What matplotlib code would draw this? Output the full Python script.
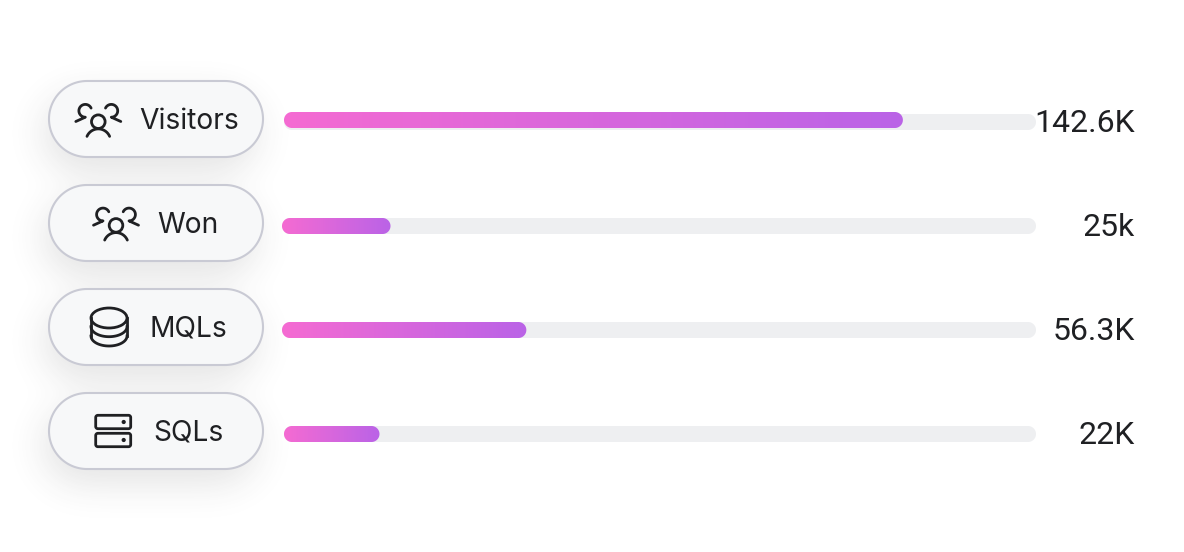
import numpy as np
import matplotlib
matplotlib.use("Agg")
import matplotlib.pyplot as plt
from matplotlib.patches import Polygon, Circle, Ellipse

# values in thousands
labels = ["Visitors", "Won", "MQLs", "SQLs"]
values = [142.6, 25, 56.3, 22]
value_labels = ["142.6K", "25k", "56.3K", "22K"]

# layout, in pixels of the 1184x552 picture
px_per_k = 4.34
row_y = [119, 223, 327, 431]
bar_start = [284, 282, 282, 284]
bar_y = [120, 226, 330, 434]
track_y = [122, 226, 330, 434]
text_x = [139.5, 157.5, 149.5, 153.5]

INK = "#1F2023"
plt.rcParams["font.family"] = ["Inter", "DejaVu Sans"]


def rounded(x0, y0, x1, y1, r, **kw):
    # real circular corners, the round boxstyle comes out too square
    pts = []
    for cx, cy, a in [(x1 - r, y0 + r, -90), (x1 - r, y1 - r, 0), (x0 + r, y1 - r, 90), (x0 + r, y0 + r, 180)]:
        t = np.radians(np.linspace(a, a + 90, 30))
        pts.append(np.column_stack([cx + r * np.cos(t), cy + r * np.sin(t)]))
    return Polygon(np.vstack(pts), closed=True, **kw)


def blur(a, sigma):
    k = np.exp(-0.5 * (np.arange(-70, 71) / sigma) ** 2)
    k = k / k.sum()
    a = np.apply_along_axis(lambda v: np.convolve(v, k, mode="same"), 0, a)
    a = np.apply_along_axis(lambda v: np.convolve(v, k, mode="same"), 1, a)
    return a


def pill_mask(yy, xx, x0, x1, y0, y1):
    r = (y1 - y0) / 2
    cy = (y0 + y1) / 2
    dx = np.maximum(np.maximum(x0 + r - xx, xx - (x1 - r)), 0)
    return (dx ** 2 + (yy - cy) ** 2 <= r ** 2).astype(float)


def arc(cx, cy, r, a0, a1, ry=None):
    t = np.radians(np.linspace(a0, a1, 40))
    return cx + r * np.cos(t), cy + (ry if ry else r) * np.sin(t)


def users_icon(ax, cx, cy):
    lw = 2.0
    ax.add_patch(Circle((cx, cy), 6.8, fill=False, ec=INK, lw=lw, zorder=6))
    x, y = arc(cx, cy + 19.5, 12.3, 203, 337)
    ax.plot(x, y, color=INK, lw=lw, solid_capstyle="round", zorder=6)
    for s in [-1, 1]:
        x, y = arc(0, -10.9, 6.4, -25, -270)
        x = list(x) + [-9.5]
        y = list(y) + [-0.2]
        ax.plot(cx + s * (np.array(x) - 13), cy + np.array(y), color=INK, lw=lw,
                solid_capstyle="round", solid_joinstyle="round", zorder=6)


def db_icon(ax, cx, cy):
    lw = 2.0
    ax.add_patch(Ellipse((cx, cy - 9), 36, 20, fill=False, ec=INK, lw=lw, zorder=6))
    for c in [-0.3, 9]:
        x, y = arc(cx, cy + c, 18, 180, 0, ry=10)
        ax.plot(x, y, color=INK, lw=lw, zorder=6)
    for s in [-1, 1]:
        ax.plot([cx + s * 18] * 2, [cy - 9, cy + 9], color=INK, lw=lw, zorder=6)


def server_icon(ax, cx, cy):
    lw = 2.0
    for dy in [-9, 9]:
        ax.add_patch(rounded(cx - 17.5, cy + dy - 6.7, cx + 17.5, cy + dy + 6.7, 2.2,
                             fill=False, ec=INK, lw=lw, zorder=6))
        ax.add_patch(Circle((cx + 10.5, cy + dy), 2.1, color=INK, lw=0, zorder=6))


fig = plt.figure(figsize=(11.84, 5.52), dpi=100)
ax = fig.add_axes([0, 0, 1, 1])
ax.axis("off")

# soft shadow under the pills
yy, xx = np.mgrid[0:552, 0:1184]
mask = np.zeros((552, 1184))
for y in row_y:
    mask = np.maximum(mask, pill_mask(yy, xx, 43, 257, y + 14 - 38, y + 14 + 38))
rgba = np.zeros((552, 1184, 4))
rgba[..., :3] = 0.25
rgba[..., 3] = blur(mask, 18) * 0.14
ax.imshow(rgba, extent=(0, 1184, 552, 0), aspect="auto", zorder=1, interpolation="bilinear")

colors = np.array([[0xF5, 0x6B, 0xD2], [0xBA, 0x63, 0xE7]]) / 255
for i, v in enumerate(values):
    y = row_y[i]
    ax.add_patch(rounded(49, y - 38, 263, y + 38, 38, fc="#F7F8F9", ec="#C9CAD4", lw=1.5, zorder=3))
    ax.text(text_x[i], y + 10, labels[i], fontsize=20.3, color=INK, va="baseline", ha="left", zorder=6)

    # track
    ax.add_patch(rounded(bar_start[i], track_y[i] - 8, 1036, track_y[i] + 8, 8,
                         fc="#EEEFF1", ec="none", zorder=2))
    # value bar with gradient
    x0 = bar_start[i]
    x1 = x0 + v * px_per_k
    t = np.linspace(0, 1, 256)[None, :, None]
    grad = colors[0] * (1 - t) + colors[1] * t
    im = ax.imshow(grad, extent=(x0, x1, bar_y[i] + 8, bar_y[i] - 8), aspect="auto", zorder=4)
    clip = rounded(x0, bar_y[i] - 8, x1, bar_y[i] + 8, 8, fc="none", ec="none")
    ax.add_patch(clip)
    im.set_clip_path(clip)

    ax.text(1135, y + 12.7, value_labels[i], fontsize=23, family=["Roboto", "DejaVu Sans"],
            color=INK, va="baseline", ha="right", zorder=6)

users_icon(ax, 98.3, 121.7)
users_icon(ax, 116, 225.4)
db_icon(ax, 109, 327)
server_icon(ax, 113.2, 431)

ax.set_xlim(0, 1184)
ax.set_ylim(552, 0)
fig.savefig("out.png", dpi=100)
